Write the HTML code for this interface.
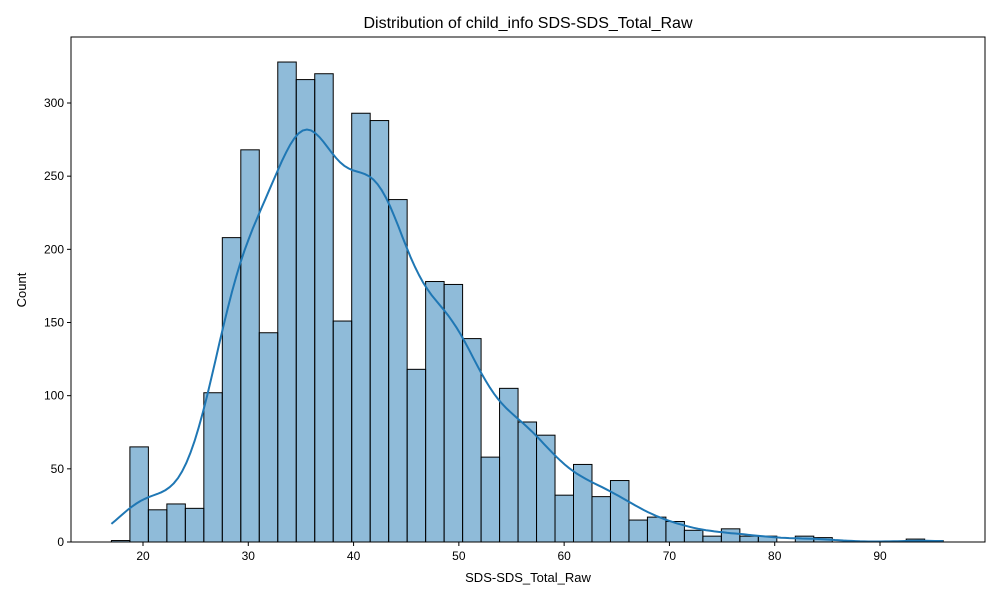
<!DOCTYPE html>
<html><head><meta charset="utf-8"><style>
body{margin:0;background:#fff;font-family:"Liberation Sans","DejaVu Sans",sans-serif}
</style></head><body>
<svg id="c" width="1000" height="600" xmlns="http://www.w3.org/2000/svg"></svg>
<script>
const binStart = 17, binEnd = 96;
const counts = [1,65,22,26,23,102,208,268,143,328,316,320,151,293,288,234,118,178,176,139,58,105,82,73,32,53,31,42,15,17,14,8,4,9,4,4,0,4,3,0,0,0,0,2,1];
const xTicks = [20,30,40,50,60,70,80,90];
const yTicks = [0,50,100,150,200,250,300];
const NS="http://www.w3.org/2000/svg", svg=document.getElementById('c');
const L=71,R=985,T=37,B=542;
const xs=v=>143+(v-20)*(737/70);
const ys=v=>B-v*(439/300);
function mk(t,a,p){const e=document.createElementNS(NS,t);for(const k in a)e.setAttribute(k,a[k]);(p||svg).appendChild(e);return e;}
const bw=(binEnd-binStart)/counts.length;
const bars=mk('g',{});


counts.forEach((c,i)=>{
  if(c<=0)return;
  const x0=xs(binStart+i*bw),x1=xs(binStart+(i+1)*bw);
  const r=mk('rect',{x:x0,y:ys(c),width:x1-x0,height:ys(0)-ys(c),fill:'rgba(31,119,180,0.5)',stroke:'#000','stroke-width':1},bars);
  
  
});
// KDE
let n=0,m=0;counts.forEach((c,i)=>{n+=c;m+=c*(binStart+(i+.5)*bw);});m/=n;
let v=0;counts.forEach((c,i)=>{const d=binStart+(i+.5)*bw-m;v+=c*d*d;});
const sd=Math.sqrt(v/n),h=1.2*sd*Math.pow(n,-0.2);
let pts=[];
for(let k=0;k<=200;k++){const x=binStart+(binEnd-binStart)*k/200;let d=0;
counts.forEach((c,i)=>{const z=(x-(binStart+(i+.5)*bw))/h;d+=c*Math.exp(-z*z/2);});
d=d/(n*h*Math.sqrt(2*Math.PI))*n*bw;pts.push(xs(x).toFixed(1)+','+ys(d).toFixed(1));}
const kde=mk('polyline',{points:pts.join(' '),fill:'none',stroke:'#1f77b4','stroke-width':2});


const fr=mk('rect',{x:L,y:T,width:R-L,height:B-T,fill:'none',stroke:'#000','stroke-width':1});


xTicks.forEach(t=>{mk('line',{x1:xs(t),x2:xs(t),y1:B,y2:B+4,stroke:'#000'});
const e=mk('text',{x:xs(t),y:B+18,'text-anchor':'middle','font-size':12});e.textContent=t;

});
yTicks.forEach(t=>{mk('line',{x1:L-4,x2:L,y1:ys(t),y2:ys(t),stroke:'#000'});
const e=mk('text',{x:L-7,y:ys(t)+4,'text-anchor':'end','font-size':12});e.textContent=t;

});
let e=mk('text',{x:528,y:28,'text-anchor':'middle','font-size':16});e.textContent='Distribution of child_info SDS-SDS_Total_Raw';


e=mk('text',{x:528,y:582,'text-anchor':'middle','font-size':13});e.textContent='SDS-SDS_Total_Raw';


e=mk('text',{x:26,y:290,'text-anchor':'middle','font-size':13,transform:'rotate(-90 26 290)'});e.textContent='Count';


</script>
</body></html>
